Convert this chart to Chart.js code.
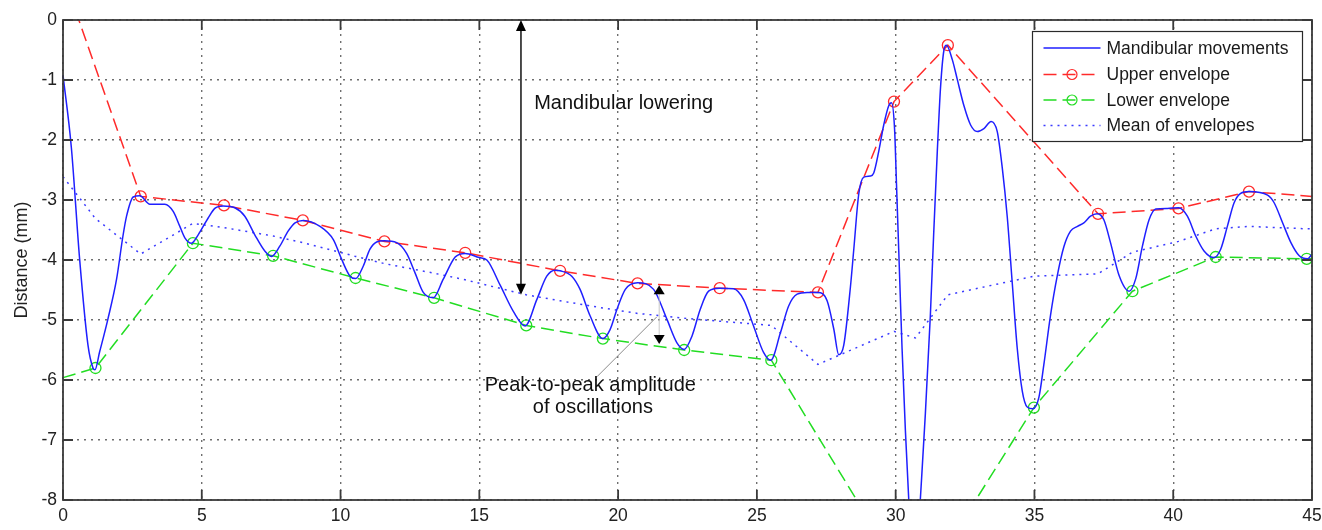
<!DOCTYPE html>
<html>
<head>
<meta charset="utf-8">
<script src="https://cdn.jsdelivr.net/npm/chart.js@4.4.1/dist/chart.umd.min.js"></script>
<style>
html,body{margin:0;padding:0;background:#ffffff;}
#wrap{width:1322px;height:530px;position:relative;}
</style>
</head>
<body>
<div id="wrap"><canvas id="c"></canvas></div>
<script>
// ---------- data ----------
const moveX = [0, 0.30, 0.60, 0.90, 1.08, 1.15, 1.32, 1.62, 1.93, 2.16, 2.29, 2.53, 2.77, 3.13, 3.67, 3.97, 4.21, 4.39, 4.63, 4.87, 5.23, 5.47, 5.77, 6.19, 6.55, 6.91, 7.27, 7.51, 7.81, 8.11, 8.36, 8.66, 9.26, 9.74, 10.04, 10.34, 10.54, 10.82, 11.06, 11.30, 11.58, 12.02, 12.38, 12.68, 12.98, 13.34, 13.70, 14.13, 14.49, 15.00, 15.27, 15.75, 16.23, 16.65, 17.07, 17.43, 17.73, 17.91, 18.33, 18.63, 18.99, 19.45, 19.71, 19.96, 20.26, 20.70, 21.28, 21.76, 22.12, 22.38, 22.66, 22.96, 23.26, 23.66, 24.16, 24.52, 24.88, 25.24, 25.50, 25.85, 26.14, 26.45, 26.81, 27.20, 27.53, 27.77, 27.95, 28.13, 28.37, 28.49, 28.67, 28.85, 29.09, 29.21, 29.39, 29.57, 29.75, 29.85, 29.96, 30.03, 30.11, 30.23, 30.35, 30.47, 30.68, 30.89, 31.07, 31.25, 31.37, 31.50, 31.62, 31.74, 31.83, 32.04, 32.22, 32.46, 32.70, 32.94, 33.18, 33.44, 33.66, 33.84, 34.02, 34.20, 34.38, 34.56, 34.74, 34.95, 35.16, 35.34, 35.58, 35.82, 36.06, 36.30, 36.55, 36.78, 37.02, 37.26, 37.50, 37.74, 38.05, 38.41, 38.65, 38.89, 39.13, 39.37, 39.79, 40.19, 40.51, 40.81, 41.11, 41.47, 41.71, 41.95, 42.19, 42.43, 42.73, 43.40, 43.64, 43.94, 44.24, 44.54, 44.84, 45.00];
const moveY = [-0.92, -2.12, -3.99, -5.42, -5.80, -5.83, -5.53, -4.98, -4.32, -3.60, -3.27, -2.95, -2.93, -3.07, -3.07, -3.19, -3.44, -3.63, -3.72, -3.58, -3.30, -3.14, -3.10, -3.13, -3.27, -3.58, -3.85, -3.94, -3.77, -3.52, -3.38, -3.34, -3.44, -3.66, -3.99, -4.27, -4.31, -4.10, -3.82, -3.70, -3.68, -3.71, -3.89, -4.21, -4.54, -4.63, -4.32, -3.95, -3.89, -3.96, -4.00, -4.42, -4.86, -5.10, -4.66, -4.27, -4.17, -4.18, -4.27, -4.49, -4.93, -5.31, -5.16, -4.82, -4.49, -4.38, -4.49, -4.99, -5.38, -5.49, -5.27, -4.82, -4.52, -4.47, -4.48, -4.66, -5.10, -5.54, -5.67, -5.21, -4.77, -4.57, -4.54, -4.54, -4.68, -5.15, -5.58, -5.42, -4.45, -3.83, -2.90, -2.62, -2.60, -2.55, -2.19, -1.75, -1.43, -1.38, -1.81, -2.74, -3.83, -5.47, -6.84, -7.98, -9.60, -7.98, -6.56, -4.92, -3.56, -2.19, -1.10, -0.50, -0.42, -0.66, -0.99, -1.43, -1.75, -1.86, -1.81, -1.69, -1.86, -2.46, -3.28, -4.38, -5.47, -6.18, -6.45, -6.48, -6.29, -5.74, -4.92, -4.27, -3.78, -3.52, -3.44, -3.38, -3.27, -3.23, -3.33, -3.71, -4.26, -4.52, -4.31, -3.77, -3.33, -3.15, -3.14, -3.13, -3.27, -3.60, -3.85, -3.96, -3.82, -3.44, -3.05, -2.89, -2.86, -2.92, -3.05, -3.38, -3.71, -3.93, -3.98, -3.90];

const upperX = [0, 2.80, 5.80, 8.64, 11.58, 14.49, 17.91, 20.70, 23.66, 27.20, 29.94, 31.88, 37.29, 40.19, 42.73, 45];
const upperY = [0.75, -2.94, -3.09, -3.34, -3.69, -3.88, -4.18, -4.39, -4.47, -4.54, -1.36, -0.42, -3.23, -3.14, -2.86, -2.94];

const lowerX = [0, 1.17, 4.68, 7.57, 10.54, 13.37, 16.69, 19.45, 22.38, 25.52, 30.71, 34.98, 38.53, 41.53, 44.81, 45];
const lowerY = [-5.96, -5.80, -3.72, -3.93, -4.30, -4.63, -5.09, -5.31, -5.50, -5.67, -9.60, -6.46, -4.52, -3.95, -3.98, -3.98];

const meanX = [0, 1.17, 2.80, 4.68, 5.80, 7.57, 8.64, 10.54, 11.58, 13.37, 14.49, 16.69, 17.91, 19.45, 20.70, 22.38, 23.66, 25.52, 27.20, 29.94, 30.71, 31.88, 34.98, 37.29, 38.53, 40.19, 41.53, 42.73, 44.81, 45];
const meanY = [-2.61, -3.31, -3.90, -3.39, -3.46, -3.60, -3.71, -3.94, -4.06, -4.22, -4.33, -4.58, -4.68, -4.80, -4.89, -4.97, -5.02, -5.09, -5.74, -5.19, -5.30, -4.58, -4.27, -4.23, -3.87, -3.69, -3.48, -3.44, -3.48, -3.48];

const seriesNames = ['Mandibular movements', 'Upper envelope', 'Lower envelope', 'Mean of envelopes'];
const xTickValues = [0, 5, 10, 15, 20, 25, 30, 35, 40, 45];
const yTickValues = [0, -1, -2, -3, -4, -5, -6, -7, -8];
const yAxisTitle = 'Distance (mm)';
const noteLowering = 'Mandibular lowering';
const noteAmplitude = ['Peak-to-peak amplitude', 'of oscillations'];

// ---------- chart ----------
const FAMILY = '"Liberation Sans", Arial, Helvetica, sans-serif';
const toPts = (xs, ys) => xs.map((v, i) => ({x: v, y: ys[i]}));
const BLUE = '#1f1fff', RED = '#ff2a2a', GREEN = '#22dd22';

const endless = (n) => (ctx) => (ctx.dataIndex === 0 || ctx.dataIndex === n - 1) ? 0 : 5.5;
const CLIP = {left: 4, right: 4, top: 0, bottom: 0};

const framePlugin = {
  id: 'frame',
  afterDatasetsDraw(chart) {
    const {ctx, chartArea: a, scales: {x, y}} = chart;
    ctx.save();
    ctx.strokeStyle = '#3a3a3a';
    ctx.lineWidth = 1.8;
    ctx.setLineDash([]);
    ctx.strokeRect(a.left, a.top, a.right - a.left, a.bottom - a.top);
    const L = 10;
    ctx.beginPath();
    xTickValues.forEach(v => {
      const px = x.getPixelForValue(v);
      ctx.moveTo(px, a.bottom); ctx.lineTo(px, a.bottom - L);
      ctx.moveTo(px, a.top); ctx.lineTo(px, a.top + L);
    });
    yTickValues.forEach(v => {
      const py = y.getPixelForValue(v);
      ctx.moveTo(a.left, py); ctx.lineTo(a.left + L, py);
      ctx.moveTo(a.right, py); ctx.lineTo(a.right - L, py);
    });
    ctx.stroke();
    ctx.restore();
  }
};

function tri(ctx, x, yTip, dir, w, h) {
  ctx.beginPath();
  ctx.moveTo(x, yTip);
  ctx.lineTo(x - w / 2, yTip + dir * h);
  ctx.lineTo(x + w / 2, yTip + dir * h);
  ctx.closePath();
  ctx.fill();
}

const annotationPlugin = {
  id: 'notes',
  afterDatasetsDraw(chart) {
    const {ctx, scales: {x, y}} = chart;
    const X = v => x.getPixelForValue(v), Y = v => y.getPixelForValue(v);
    ctx.save();
    const ax = X(16.5), aTop = Y(0), aBot = Y(-4.58);
    ctx.strokeStyle = '#000'; ctx.fillStyle = '#000'; ctx.lineWidth = 1.4;
    ctx.beginPath(); ctx.moveTo(ax, aTop + 6); ctx.lineTo(ax, aBot - 6); ctx.stroke();
    tri(ctx, ax, aTop, 1, 10, 11);
    tri(ctx, ax, aBot, -1, 10, 11);
    const bx = X(21.48), bTop = Y(-4.42), bBot = Y(-5.40);
    ctx.strokeStyle = '#c8c8c8'; ctx.lineWidth = 1;
    ctx.beginPath(); ctx.moveTo(bx, bTop + 9); ctx.lineTo(bx, bBot - 9); ctx.stroke();
    ctx.fillStyle = '#000';
    tri(ctx, bx, bTop, 1, 11, 9);
    tri(ctx, bx, bBot, -1, 11, 9);
    ctx.strokeStyle = '#8a8a8a'; ctx.lineWidth = 1;
    ctx.beginPath(); ctx.moveTo(X(21.40), Y(-4.945)); ctx.lineTo(X(19.24), Y(-5.945)); ctx.stroke();
    ctx.fillStyle = '#111';
    ctx.font = '20px ' + FAMILY;
    ctx.textAlign = 'center'; ctx.textBaseline = 'middle';
    ctx.fillText(noteLowering, X(20.20), Y(-1.39));
    ctx.fillText(noteAmplitude[0], X(19.00), Y(-6.095));
    ctx.fillText(noteAmplitude[1], X(19.09), Y(-6.455));
    ctx.restore();
  }
};

const legendPlugin = {
  id: 'boxLegend',
  afterDraw(chart) {
    const {ctx, chartArea: a} = chart;
    const right = a.right - 9.5, top = a.top + 11.5;
    const w = 270, h = 110;
    const left = right - w;
    ctx.save();
    ctx.fillStyle = '#fff';
    ctx.fillRect(left, top, w, h);
    ctx.strokeStyle = '#2a2a2a'; ctx.lineWidth = 1.2; ctx.setLineDash([]);
    ctx.strokeRect(left, top, w, h);
    const rows = [16.5, 43, 68.5, 94];
    const ds = chart.data.datasets;
    ctx.font = '17.5px ' + FAMILY;
    ctx.textAlign = 'left'; ctx.textBaseline = 'middle';
    ds.forEach((d, i) => {
      const ry = top + rows[i];
      const x1 = left + 11, x2 = left + 68;
      ctx.save();
      ctx.strokeStyle = d.borderColor; ctx.lineWidth = d.borderWidth;
      ctx.setLineDash(d.borderDash || []);
      ctx.beginPath(); ctx.moveTo(x1, ry); ctx.lineTo(x2, ry); ctx.stroke();
      if (i === 1 || i === 2) {
        ctx.setLineDash([]);
        ctx.lineWidth = 1.2;
        ctx.beginPath(); ctx.arc((x1 + x2) / 2, ry, 5, 0, Math.PI * 2); ctx.stroke();
      }
      ctx.restore();
      ctx.fillStyle = '#1a1a1a';
      ctx.fillText(d.label, left + 74, ry + 1);
    });
    ctx.restore();
  }
};

new Chart(document.getElementById('c'), {
  type: 'line',
  data: {
    datasets: [
      {label: seriesNames[0], data: toPts(moveX, moveY), borderColor: BLUE, borderWidth: 1.5,
       pointRadius: 0, cubicInterpolationMode: 'monotone', clip: CLIP, order: 1},
      {label: seriesNames[1], data: toPts(upperX, upperY), borderColor: RED, borderWidth: 1.5,
       borderDash: [13, 6], tension: 0, pointRadius: endless(upperX.length), pointStyle: 'circle',
       pointBackgroundColor: 'rgba(0,0,0,0)', pointBorderColor: RED, pointBorderWidth: 1.3, clip: CLIP, order: 2},
      {label: seriesNames[2], data: toPts(lowerX, lowerY), borderColor: GREEN, borderWidth: 1.5,
       borderDash: [13, 6], tension: 0, pointRadius: endless(lowerX.length), pointStyle: 'circle',
       pointBackgroundColor: 'rgba(0,0,0,0)', pointBorderColor: GREEN, pointBorderWidth: 1.3, clip: CLIP, order: 3},
      {label: seriesNames[3], data: toPts(meanX, meanY), borderColor: '#3b3bff', borderWidth: 1.5,
       borderDash: [2, 5], tension: 0, pointRadius: 0, clip: CLIP, order: 4}
    ]
  },
  options: {
    responsive: true,
    maintainAspectRatio: false,
    animation: false,
    devicePixelRatio: 1,
    layout: {padding: {top: 20, right: 10, left: 0, bottom: 0}},
    plugins: {legend: {display: false}, tooltip: {enabled: false}},
    elements: {line: {fill: false}},
    scales: {
      x: {
        type: 'linear', min: 0, max: 45,
        afterBuildTicks: s => { s.ticks = xTickValues.map(v => ({value: v})); },
        afterFit: s => { s.height = 30; s.paddingRight = 0; s.paddingLeft = 0; },
        grid: {color: '#6f6f6f', lineWidth: 1.4, drawTicks: false},
        border: {display: false, dash: [2, 5]},
        ticks: {font: {size: 17.5, family: FAMILY}, color: '#222', padding: 6, maxRotation: 0, autoSkip: false}
      },
      y: {
        type: 'linear', min: -8, max: 0,
        afterBuildTicks: s => { s.ticks = yTickValues.map(v => ({value: v})); },
        afterFit: s => { s.width = 63; s.paddingTop = 0; s.paddingBottom = 0; },
        grid: {color: '#6f6f6f', lineWidth: 1.4, drawTicks: false},
        border: {display: false, dash: [2, 5]},
        ticks: {font: {size: 17.5, family: FAMILY}, color: '#222', padding: 6, autoSkip: false},
        title: {display: true, text: yAxisTitle, font: {size: 18, family: FAMILY}, color: '#222', padding: {top: 11, bottom: 0}}
      }
    }
  },
  plugins: [framePlugin, annotationPlugin, legendPlugin]
});
</script>
</body>
</html>
